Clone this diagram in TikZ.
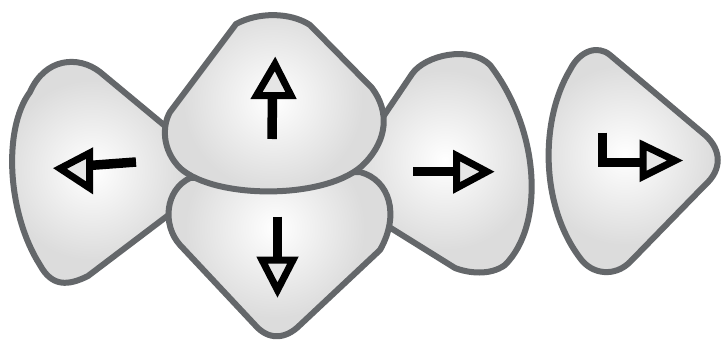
\documentclass[tikz,border=0pt]{standalone}
\definecolor{btnfill}{HTML}{DCDCDC}
\definecolor{btnline}{HTML}{64676A}
\definecolor{headfill}{HTML}{E6E6E6}
\tikzset{
  btnedge/.style={draw=btnline, line width=6pt, line join=round},
  shaft/.style={draw=black, line width=9.5pt, line cap=butt, line join=miter},
  ahead/.style={draw=black, fill=headfill, line width=7pt, line join=miter, miter limit=10},
}
\newcommand\mybutton[3]{%
  \begin{scope}
    \clip #1;
    \fill[btnfill] #1;
    \shade[inner color=white, outer color=btnfill] (#2) circle (#3);
  \end{scope}
  \draw[btnedge] #1;
}
\begin{document}
\begin{tikzpicture}[x=1pt, y=-1pt]
\useasboundingbox[fill=white] (0,0) rectangle (721,340);
% left button
\mybutton{(100,72) -- (200,155) .. controls (215,168) and (212,182) .. (195,195) -- (88,276) .. controls (68,286) and (52,287) .. (40,265) .. controls (8,215) and (2,130) .. (30,92) .. controls (45,58) and (78,55) .. (100,72) -- cycle}{92,170}{90}
% right button
\mybutton{(360,151) -- (412,74) .. controls (425,55) and (470,45) .. (490,65) .. controls (540,130) and (545,225) .. (505,265) .. controls (490,276) and (468,273) .. (455,268) -- (365,212) .. controls (340,195) and (345,170) .. (360,151) -- cycle}{445,160}{90}
% far right button
\mybutton{(610,55) -- (705,135) .. controls (722,150) and (722,170) .. (705,185) -- (630,262) .. controls (615,277) and (592,275) .. (580,258) .. controls (540,205) and (540,120) .. (570,70) .. controls (580,50) and (598,45) .. (610,55) -- cycle}{625,155}{90}
% down button
\mybutton{(190,178) -- (360,172) .. controls (390,180) and (400,215) .. (380,250) -- (300,325) .. controls (285,340) and (268,340) .. (255,325) -- (180,245) .. controls (162,225) and (165,190) .. (190,178) -- cycle}{275,228}{90}
% up button
\mybutton{(236,24) .. controls (258,12) and (290,12) .. (310,25) -- (372,88) .. controls (390,112) and (387,140) .. (365,163) .. controls (330,200) and (215,200) .. (180,168) .. controls (162,150) and (162,126) .. (170,112) -- cycle}{273,100}{90}
% arrows
\draw[shaft] (136,162) -- (89,165.5);
\draw[ahead] (60,168.5) -- (89.7,153) -- (89.7,188) -- cycle;
\draw[shaft] (272,139) -- (272.5,96);
\draw[ahead] (275,64) -- (291,95.5) -- (256.5,95.5) -- cycle;
\draw[shaft] (277.5,216.5) -- (277.5,260);
\draw[ahead] (262,260) -- (293,260) -- (277.5,290) -- cycle;
\draw[shaft] (413,171.7) -- (456.5,171.7);
\draw[ahead] (456.5,155.5) -- (487,171.7) -- (456.5,188) -- cycle;
\draw[shaft] (602.5,132.5) -- (602.5,162.5) -- (643,162.5);
\draw[ahead] (643,145) -- (675,160.5) -- (643,176.5) -- cycle;
\end{tikzpicture}
\end{document}
